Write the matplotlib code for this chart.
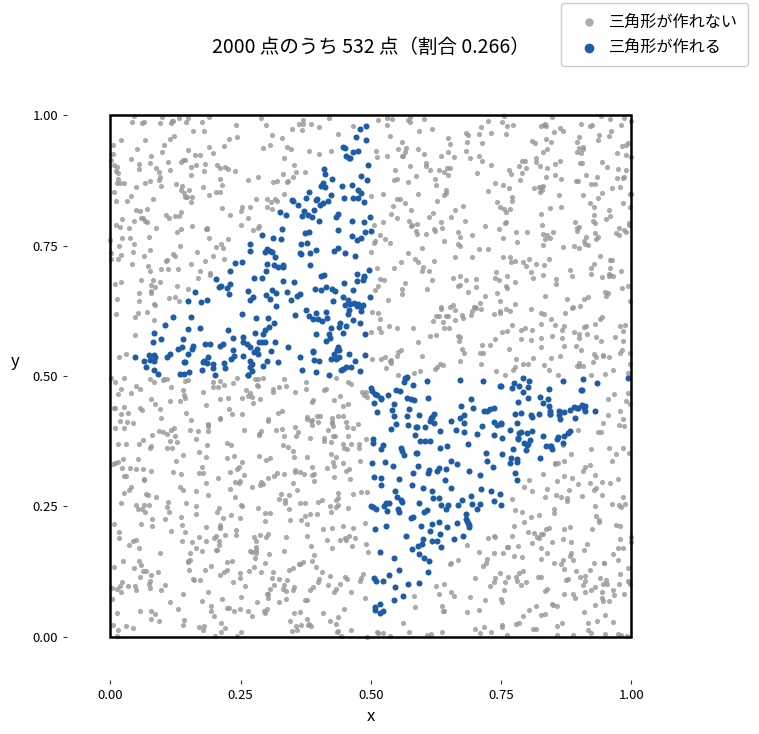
import numpy as np
import matplotlib
matplotlib.use("Agg")
import matplotlib.pyplot as plt
from matplotlib.patches import Rectangle

plt.rcParams['font.family'] = ['Noto Sans CJK JP', 'DejaVu Sans']

# Monte Carlo: break a stick at two uniform points x, y
n_points = 2000
n_ok = 532
title = f"{n_points} 点のうち {n_ok} 点（割合 {n_ok / n_points:.3f}）"
labels = ["三角形が作れない", "三角形が作れる"]
ticks = [0.0, 0.25, 0.5, 0.75, 1.0]


def can_make_triangle(x, y):
    a = np.minimum(x, y)
    b = np.abs(x - y)
    c = 1 - np.maximum(x, y)
    return (a < 0.5) & (b < 0.5) & (c < 0.5)


# pick a seed whose sample has the same count as the original run
seed = 0
while True:
    rng = np.random.default_rng(seed)
    px = rng.random(n_points)
    py = rng.random(n_points)
    ok = can_make_triangle(px, py)
    if ok.sum() == n_ok:
        break
    seed += 1

fig = plt.figure(figsize=(7.59, 7.34), dpi=100)
ax = fig.add_axes([0.0883, 0.0736, 0.8007, 0.8284])

ax.scatter(px[~ok], py[~ok], s=14, color="#969696", alpha=0.8,
           linewidths=0, label=labels[0])
ax.scatter(px[ok], py[ok], s=19, color="#1f5ca8", linewidths=0,
           label=labels[1])

ax.add_patch(Rectangle((0, 0), 1, 1, fill=False, edgecolor="black",
                       linewidth=1.8, zorder=3))

ax.set_xlim(-0.083, 1.083)
ax.set_ylim(-0.083, 1.083)
for s in ax.spines.values():
    s.set_visible(False)
ax.set_xticks(ticks)
ax.set_yticks(ticks)
ax.tick_params(labelsize=9.5, length=3, width=0.8, color="#333333")
ax.set_xlabel("x", fontsize=12)
ax.set_ylabel("y", fontsize=12, rotation=0)
ax.yaxis.set_label_coords(-0.085, 0.51)
ax.set_title(title, fontsize=14, pad=14)

fig.legend(loc="upper right", bbox_to_anchor=(0.99, 1.0), fontsize=11.6,
           markerscale=1.6, framealpha=1, edgecolor="#cccccc",
           borderaxespad=0.2, borderpad=0.65, handlelength=2.2,
           handletextpad=0.1)

fig.savefig("out.png", dpi=100)
